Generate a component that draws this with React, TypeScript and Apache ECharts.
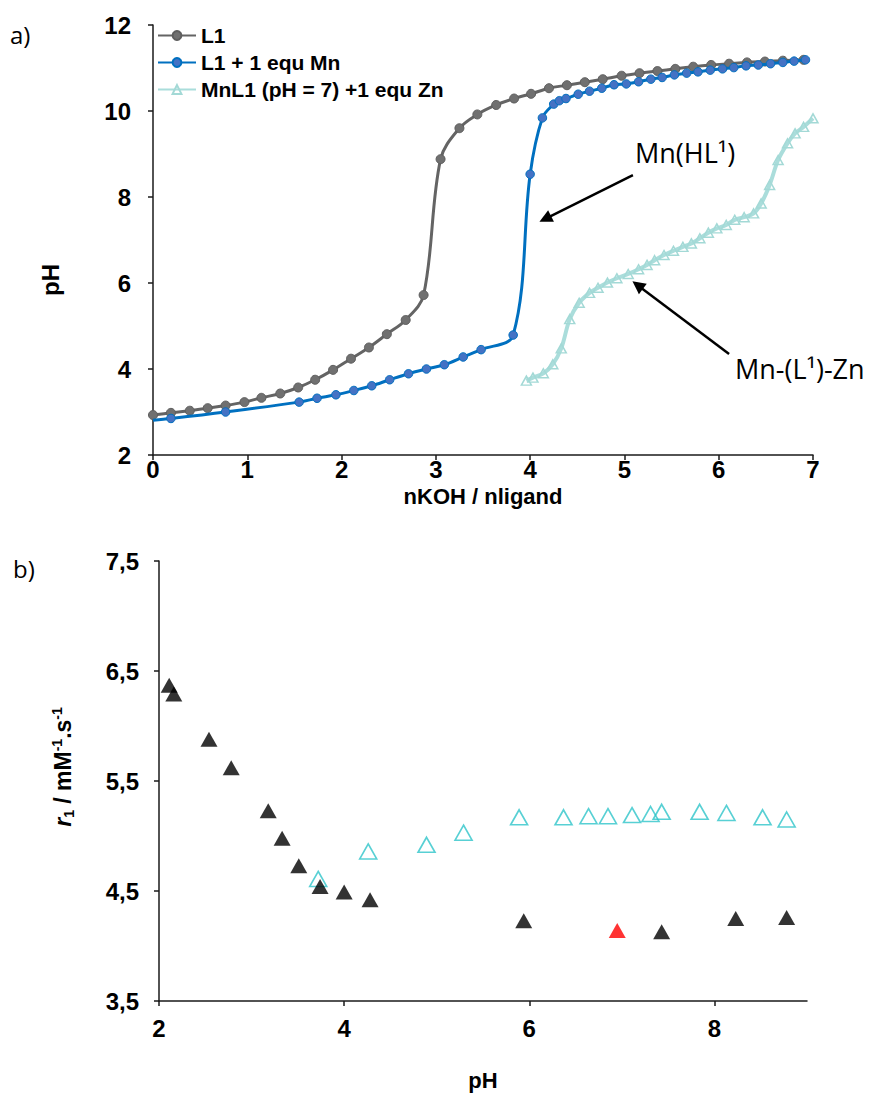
import React, { useEffect, useRef } from 'react';
import * as echarts from 'echarts';

// ---- Panel a) titration curves ----
const L1_X = [0, 0.19, 0.39, 0.58, 0.77, 0.97, 1.15, 1.35, 1.54, 1.72, 1.91, 2.10, 2.29, 2.48, 2.68, 2.87, 3.05, 3.25, 3.44, 3.64, 3.83, 4.01, 4.20, 4.39, 4.58, 4.77, 4.97, 5.16, 5.35, 5.54, 5.73, 5.92, 6.11, 6.30, 6.49, 6.68, 6.90];
const L1_Y = [2.93, 2.98, 3.03, 3.09, 3.15, 3.23, 3.33, 3.43, 3.57, 3.75, 3.98, 4.24, 4.50, 4.81, 5.14, 5.72, 8.88, 9.60, 9.92, 10.14, 10.29, 10.40, 10.53, 10.60, 10.67, 10.74, 10.82, 10.88, 10.93, 10.98, 11.03, 11.07, 11.10, 11.13, 11.15, 11.17, 11.19];

const MN_X = [0, 0.19, 0.77, 1.55, 1.74, 1.94, 2.13, 2.32, 2.51, 2.71, 2.90, 3.09, 3.29, 3.48, 3.82, 4.00, 4.13, 4.25, 4.31, 4.38, 4.51, 4.63, 4.76, 4.89, 5.02, 5.15, 5.28, 5.40, 5.53, 5.66, 5.78, 5.91, 6.04, 6.16, 6.29, 6.42, 6.55, 6.68, 6.80, 6.92];
const MN_Y = [2.81, 2.85, 3.00, 3.23, 3.32, 3.40, 3.50, 3.61, 3.75, 3.89, 4.00, 4.10, 4.28, 4.45, 4.79, 8.53, 9.84, 10.16, 10.24, 10.29, 10.39, 10.46, 10.53, 10.61, 10.63, 10.68, 10.74, 10.78, 10.84, 10.88, 10.91, 10.95, 10.98, 11.01, 11.05, 11.07, 11.10, 11.13, 11.16, 11.19];

const ZN_X = [3.96, 4.03, 4.14, 4.24, 4.33, 4.42, 4.52, 4.63, 4.72, 4.82, 4.92, 5.04, 5.15, 5.24, 5.32, 5.42, 5.52, 5.62, 5.71, 5.80, 5.89, 5.98, 6.08, 6.17, 6.27, 6.37, 6.45, 6.54, 6.63, 6.73, 6.81, 6.90, 7.00];
const ZN_Y = [3.73, 3.80, 3.90, 4.11, 4.48, 5.16, 5.54, 5.77, 5.89, 6.01, 6.11, 6.21, 6.32, 6.42, 6.53, 6.65, 6.75, 6.84, 6.92, 7.04, 7.17, 7.27, 7.35, 7.47, 7.53, 7.62, 7.85, 8.28, 8.86, 9.25, 9.48, 9.63, 9.83];

const NAMES_A = ['L1', 'L1 + 1 equ Mn', 'MnL1 (pH = 7) +1 equ Zn'];
const TICKS_A_X = [0, 1, 2, 3, 4, 5, 6, 7];

// arrows (data coordinates): [tailX, tailY, headX, headY]
const ARROW_HL = [5.09, 8.51, 4.16, 7.49];
const ARROW_ZN = [6.11, 4.35, 5.14, 5.95];

// ---- Panel b) relaxivity vs pH ----
const BLACK_PH = [2.11, 2.16, 2.54, 2.78, 3.18, 3.33, 3.51, 3.74, 4.00, 4.28, 5.94, 7.43, 8.23, 8.78];
const BLACK_R1 = [6.37, 6.29, 5.88, 5.62, 5.23, 4.98, 4.73, 4.54, 4.49, 4.42, 4.23, 4.13, 4.25, 4.26];
const RED_PH = [6.95];
const RED_R1 = [4.14];
const TEAL_PH = [3.72, 4.26, 4.89, 5.29, 5.89, 6.37, 6.64, 6.85, 7.11, 7.31, 7.43, 7.84, 8.13, 8.52, 8.78];
const TEAL_R1 = [4.61, 4.86, 4.92, 5.03, 5.17, 5.17, 5.18, 5.18, 5.19, 5.20, 5.22, 5.22, 5.21, 5.17, 5.15];
const TICKS_B_X = [2, 4, 6, 8];
const TICKS_B_Y = [3.5, 4.5, 5.5, 6.5, 7.5];

const zip = (xs: number[], ys: number[]) => xs.map((x, i) => [x, ys[i]]);

const BOLD = 'Liberation Sans, Arial, sans-serif';
const SOFT = 'Open Sans, Noto Sans, sans-serif';

export default function App() {
  const ref = useRef<HTMLDivElement>(null);

  useEffect(() => {
    const chart = echarts.init(ref.current!, null, { renderer: 'svg' });

    const axisLine = { show: true, lineStyle: { color: '#1a1a1a', width: 1.5 } };
    const axisTick = { show: true, inside: false, length: 5, lineStyle: { color: '#1a1a1a', width: 1.5 } };
    const labelStyle = { fontFamily: BOLD, fontWeight: 'bold', fontSize: 24, color: '#000' };

    const mnData: any[] = zip(MN_X, MN_Y).map((p, i) => (i === 0 ? { value: p, symbol: 'none' } : p));

    const option: any = {
      animation: false,
      backgroundColor: '#fff',
      grid: [
        { left: 153, right: 72, top: 25, bottom: 640, containLabel: false, outerBoundsMode: 'none' },
        { left: 159, right: 78, top: 561, bottom: 94, containLabel: false, outerBoundsMode: 'none' },
      ],
      legend: {
        data: NAMES_A,
        orient: 'vertical',
        left: 157,
        top: 25,
        padding: 0,
        itemWidth: 38,
        itemHeight: 11,
        itemGap: 6,
        selectedMode: false,
        textStyle: { fontFamily: BOLD, fontWeight: 'bold', fontSize: 21, color: '#000', lineHeight: 21 },
      },
      xAxis: [
        {
          gridIndex: 0, type: 'value', min: 0, max: 7, interval: 1,
          axisLine, axisTick, splitLine: { show: false },
          axisLabel: { ...labelStyle, margin: 2, customValues: TICKS_A_X },
        },
        {
          gridIndex: 1, type: 'value', min: 2, max: 9, interval: 1,
          axisLine, axisTick: { ...axisTick, customValues: TICKS_B_X }, splitLine: { show: false },
          axisLabel: { ...labelStyle, margin: 15, customValues: TICKS_B_X },
        },
      ],
      yAxis: [
        {
          gridIndex: 0, type: 'value', min: 2, max: 12, interval: 2,
          axisLine, axisTick, splitLine: { show: false },
          axisLabel: { ...labelStyle, margin: 22 },
        },
        {
          gridIndex: 1, type: 'value', min: 3.5, max: 7.5,
          axisLine, axisTick: { ...axisTick, customValues: TICKS_B_Y }, splitLine: { show: false },
          axisLabel: {
            ...labelStyle, margin: 20, customValues: TICKS_B_Y,
            formatter: (v: number) => v.toFixed(1).replace('.', ','),
          },
        },
      ],
      series: [
        {
          name: NAMES_A[0], type: 'line', xAxisIndex: 0, yAxisIndex: 0,
          data: zip(L1_X, L1_Y), smooth: 0.35,
          symbol: 'circle', symbolSize: 9,
          lineStyle: { color: '#646464', width: 3 },
          itemStyle: { color: '#707070', borderColor: '#5e5e5e', borderWidth: 1 },
          z: 2,
        },
        {
          name: NAMES_A[1], type: 'line', xAxisIndex: 0, yAxisIndex: 0,
          data: mnData, smooth: 0.35,
          symbol: 'circle', symbolSize: 8.5,
          lineStyle: { color: '#0070C0', width: 3 },
          itemStyle: { color: '#4472C4', borderColor: '#0070C0', borderWidth: 1 },
          z: 3,
        },
        {
          name: NAMES_A[2], type: 'line', xAxisIndex: 0, yAxisIndex: 0,
          data: zip(ZN_X, ZN_Y), smooth: 0.35,
          symbol: 'triangle', symbolSize: [10, 9],
          lineStyle: { color: '#AADDDB', width: 4 },
          itemStyle: { color: 'rgba(255,255,255,0)', borderColor: '#A3D9D6', borderWidth: 1.5 },
          z: 4,
        },
        {
          name: 'arrows', type: 'line', xAxisIndex: 0, yAxisIndex: 0, data: [],
          markLine: {
            silent: true, animation: false,
            symbol: ['none', 'triangle'], symbolSize: 13,
            label: { show: false },
            lineStyle: { color: '#000', width: 2.5, type: 'solid' },
            emphasis: { disabled: true },
            data: [
              [{ coord: [ARROW_HL[0], ARROW_HL[1]] }, { coord: [ARROW_HL[2], ARROW_HL[3]] }],
              [{ coord: [ARROW_ZN[0], ARROW_ZN[1]] }, { coord: [ARROW_ZN[2], ARROW_ZN[3]] }],
            ],
          },
        },
        {
          name: 'teal', type: 'scatter', xAxisIndex: 1, yAxisIndex: 1,
          data: zip(TEAL_PH, TEAL_R1), symbol: 'triangle', symbolSize: [17, 15],
          itemStyle: { color: 'rgba(255,255,255,0)', borderColor: '#2EC4C9', borderWidth: 1.6 },
          z: 2,
        },
        {
          name: 'black', type: 'scatter', xAxisIndex: 1, yAxisIndex: 1,
          data: zip(BLACK_PH, BLACK_R1), symbol: 'triangle', symbolSize: [17, 15],
          itemStyle: { color: '#000' },
          z: 3,
        },
        {
          name: 'red', type: 'scatter', xAxisIndex: 1, yAxisIndex: 1,
          data: zip(RED_PH, RED_R1), symbol: 'triangle', symbolSize: [17, 15],
          itemStyle: { color: '#FF0000' },
          z: 3,
        },
      ],
      graphic: [
        { type: 'text', left: 10, top: 22, style: { text: 'a)', fontFamily: SOFT, fontSize: 24, fill: '#000' } },
        { type: 'text', left: 13, top: 556, style: { text: 'b)', fontFamily: SOFT, fontSize: 24, fill: '#000' } },
        {
          type: 'text', x: 50, y: 280, rotation: Math.PI / 2,
          style: { text: 'pH', fontFamily: BOLD, fontWeight: 'bold', fontSize: 24, fill: '#000', align: 'center', verticalAlign: 'middle' },
        },
        {
          type: 'text', x: 483, y: 496,
          style: { text: 'nKOH / nligand', fontFamily: BOLD, fontWeight: 'bold', fontSize: 22, fill: '#000', align: 'center', verticalAlign: 'middle' },
        },
        {
          type: 'text', x: 483, y: 1080,
          style: { text: 'pH', fontFamily: BOLD, fontWeight: 'bold', fontSize: 22, fill: '#000', align: 'center', verticalAlign: 'middle' },
        },
        {
          type: 'text', x: 63, y: 767, rotation: Math.PI / 2,
          style: {
            text: '{i|r}{sub|1}{b| / mM}{sup|-1}{b|.s}{sup|-1}',
            align: 'center', verticalAlign: 'middle',
            rich: {
              i: { fontFamily: BOLD, fontWeight: 'bold', fontStyle: 'italic', fontSize: 23, lineHeight: 26, fill: '#000', verticalAlign: 'middle' },
              b: { fontFamily: BOLD, fontWeight: 'bold', fontSize: 23, lineHeight: 26, fill: '#000', verticalAlign: 'middle' },
              sub: { fontFamily: BOLD, fontWeight: 'bold', fontSize: 14, lineHeight: 14, fill: '#000', verticalAlign: 'bottom' },
              sup: { fontFamily: BOLD, fontWeight: 'bold', fontSize: 14, lineHeight: 14, fill: '#000', verticalAlign: 'top' },
            },
          },
        },
        {
          type: 'text', x: 635, y: 152,
          style: { text: 'Mn(HL¹)', fontFamily: SOFT, fontSize: 27, fill: '#000', align: 'left', verticalAlign: 'middle' },
        },
        {
          type: 'text', x: 735, y: 368,
          style: { text: 'Mn-(L¹)-Zn', fontFamily: SOFT, fontSize: 27, fill: '#000', align: 'left', verticalAlign: 'middle' },
        },
      ],
    };

    chart.setOption(option);
    return () => chart.dispose();
  }, []);

  return (
    <div
      ref={ref}
      style={{ position: 'absolute', left: 0, top: 0, width: 885, height: 1095, background: '#fff' }}
    />
  );
}
